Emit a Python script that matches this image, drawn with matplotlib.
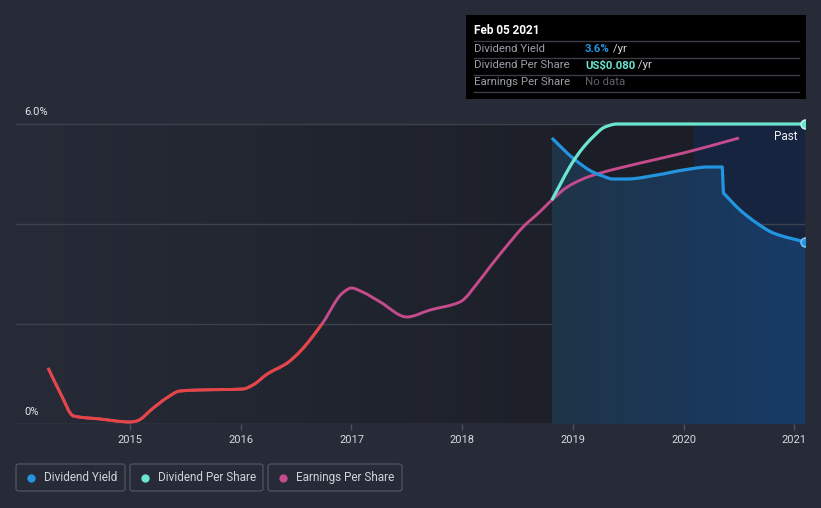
import matplotlib
matplotlib.use("Agg")
import matplotlib.pyplot as plt
import numpy as np
from matplotlib.patches import Rectangle, FancyBboxPatch, PathPatch
from matplotlib.path import Path
from matplotlib.lines import Line2D
from matplotlib.colors import to_rgb

plt.rcParams['font.family'] = ['Roboto', 'DejaVu Sans']

# ---------------- data ----------------
yield_years = [2018.81, 2019.00, 2019.18, 2019.27, 2019.36, 2019.49, 2019.76, 2020.00,
               2020.22, 2020.35, 2020.36, 2020.51, 2020.66, 2020.81, 2021.097]
yield_vals = [5.72, 5.32, 5.04, 4.96, 4.90, 4.90, 4.98, 5.08,
              5.14, 5.14, 4.62, 4.28, 4.02, 3.82, 3.64]
yield_break = 10  # index where the yield drops abruptly (dividend cut)

dps_years = [2018.81, 2019.00, 2019.09, 2019.18, 2019.29, 2019.40, 2020.00, 2021.097]
dps_vals = [0.0597, 0.0699, 0.0736, 0.0765, 0.0792, 0.0800, 0.0800, 0.0800]

eps_years = [2014.26, 2014.37, 2014.49, 2014.73, 2015.00, 2015.06, 2015.21, 2015.33,
             2015.45, 2015.63, 2016.02, 2016.11, 2016.24, 2016.42, 2016.54,
             2016.74, 2016.92, 2017.00, 2017.10, 2017.26, 2017.50, 2017.71, 2017.98,
             2018.16, 2018.25, 2018.41, 2018.55, 2018.70, 2018.81, 2018.95, 2019.07,
             2019.16, 2019.61, 2020.00, 2020.50]
eps_vals = [1.12, 0.62, 0.16, 0.10, 0.04, 0.06, 0.32, 0.52,
            0.66, 0.68, 0.70, 0.78, 1.00, 1.22, 1.46,
            2.02, 2.62, 2.72, 2.64, 2.44, 2.14, 2.28, 2.44,
            2.88, 3.14, 3.58, 3.94, 4.24, 4.48, 4.74, 4.88,
            4.96, 5.22, 5.42, 5.72]

x_ticks = [2015, 2016, 2017, 2018, 2019, 2020, 2021]
y_ticks = [0, 2, 4, 6]
y_ticklabels = {0: "0%", 6: "6.0%"}

# ---------------- style ----------------
W, H = 821, 508
BG = '#262b37'
BLUE = '#2394df'
TEAL = '#6ce5d0'
MAGENTA = '#c44b8c'
RED = '#e64545'


def monotone_segments(xs, ys):
    """Monotone-x cubic Bezier segments through the points (drawing style)."""
    x = np.asarray(xs, float)
    y = np.asarray(ys, float)
    n = len(x)
    h = np.diff(x)
    d = np.diff(y) / h
    m = np.zeros(n)
    m[0] = d[0]
    m[-1] = d[-1]
    for i in range(1, n - 1):
        if d[i - 1] * d[i] <= 0:
            m[i] = 0
        else:
            w1 = 2 * h[i] + h[i - 1]
            w2 = h[i] + 2 * h[i - 1]
            m[i] = (w1 + w2) / (w1 / d[i - 1] + w2 / d[i])
    verts, codes = [], []
    for i in range(n - 1):
        dx = h[i] / 3
        verts += [(x[i] + dx, y[i] + m[i] * dx), (x[i + 1] - dx, y[i + 1] - m[i + 1] * dx), (x[i + 1], y[i + 1])]
        codes += [Path.CURVE4] * 3
    return verts, codes


def monotone_path(xs, ys, breaks=()):
    pieces = []
    idx = [0] + list(breaks) + [len(xs)]
    for a, b in zip(idx[:-1], idx[1:]):
        pieces.append((xs[a:b], ys[a:b]))
    verts = [(xs[0], ys[0])]
    codes = [Path.MOVETO]
    for k, (px, py) in enumerate(pieces):
        if k > 0:
            verts.append((px[0], py[0]))
            codes.append(Path.LINETO)
        if len(px) > 1:
            v, c = monotone_segments(px, py)
            verts += v
            codes += c
    return Path(verts, codes)


fig = plt.figure(figsize=(W / 100, H / 100), dpi=100, facecolor=BG)

def fx(px):
    return px / W

def fy(py):
    return 1 - py / H

X0, X1 = 2013.97, 2021.097
Y0, Y1 = 0, 8.48
TOP = 6.0
ax = fig.add_axes([fx(16), fy(424), fx(805) - fx(16), fy(0) - fy(424)])
ax.set_facecolor('none')
ax.set_xlim(X0, X1)
ax.set_ylim(Y0, Y1)
for s in ax.spines.values():
    s.set_visible(False)

# background of the plot region
start = yield_years[0]
c0 = np.array(to_rgb(BG))
c1 = np.array(to_rgb('#1d2029'))
t = np.linspace(0, 1, 256)[None, :, None]
grad = c0 + (c1 - c0) * t
ax.imshow(grad, extent=[X0, start, Y0, TOP], aspect='auto', zorder=0, interpolation='bilinear')
past_start = 2020.09
ax.add_patch(Rectangle((start, Y0), past_start - start, TOP, facecolor='#1b1e26', edgecolor='none', zorder=0))
ax.add_patch(Rectangle((past_start, Y0), X1 - past_start, TOP, facecolor='#172440', edgecolor='none', zorder=0))

# grid lines
for yv in y_ticks:
    ax.axhline(yv, color='#4a505c' if yv == 0 else '#3b414d', lw=1, zorder=1)

# fill under dividend yield (gradient)
ypath = monotone_path(yield_years, yield_vals, breaks=[yield_break])
fill_verts = list(ypath.vertices) + [(yield_years[-1], 0), (yield_years[0], 0), (yield_years[0], yield_vals[0])]
fill_codes = list(ypath.codes) + [Path.LINETO, Path.LINETO, Path.CLOSEPOLY]
fill_path = Path(fill_verts, fill_codes)
g0 = np.array(to_rgb('#1f3447'))
g1 = np.array(to_rgb('#173b68'))
fgrad = g0 + (g1 - g0) * t
im = ax.imshow(fgrad, extent=[start, X1, Y0, TOP], aspect='auto', zorder=2, interpolation='bilinear')
im.set_clip_path(fill_path, transform=ax.transData)

# EPS line: magenta above threshold, red below
epath = monotone_path(eps_years, eps_vals)
ax.add_patch(PathPatch(epath, facecolor='none', edgecolor=MAGENTA, lw=2.1, zorder=4, capstyle='butt'))
red = ax.add_patch(PathPatch(epath, facecolor='none', edgecolor=RED, lw=2.1, zorder=4.5, capstyle='butt'))
clip_rect = Rectangle((X0, -1), X1 - X0, 3.0, transform=ax.transData)
red.set_clip_path(clip_rect)

# Dividend yield line
ax.add_patch(PathPatch(ypath, facecolor='none', edgecolor=BLUE, lw=2.3, zorder=5, joinstyle='round'))
ax.plot([yield_years[-1]], [yield_vals[-1]], 'o', color=BLUE, ms=6.5, mec='#8cc8f2', mew=1, zorder=6)

# Dividend per share on its own scale
ax2 = ax.twinx()
ax2.set_ylim(0, 0.08 * Y1 / 6.0)
ax2.set_xlim(X0, X1)
ax2.axis('off')
ax2.add_patch(PathPatch(monotone_path(dps_years, dps_vals), facecolor='none', edgecolor=TEAL, lw=2.3, zorder=5))
ax2.plot([dps_years[-1]], [dps_vals[-1]], 'o', color=TEAL, ms=6.5, mec='#c8f7ee', mew=1, zorder=6)

# ticks
ax.set_xticks(x_ticks)
ax.set_xticklabels([str(v) for v in x_ticks], color='#d6d9de', fontsize=8)
ax.tick_params(axis='x', length=4, width=1, color='#4a505c', pad=4)
ax.set_yticks([])

for yv, lab in y_ticklabels.items():
    fig.text(fx(24), fy(424 - yv * 50 - 12), lab, color='#e4e6ea', fontsize=8, va='center', ha='left')

fig.text(fx(797), fy(136), "Past", color='#f0f0f0', fontsize=8.5, ha='right', va='center')

# ---------------- tooltip ----------------
fig.patches.append(Rectangle((fx(466), fy(99)), fx(806) - fx(466), fy(15) - fy(99),
                             transform=fig.transFigure, facecolor='#000000', edgecolor='none', zorder=10))
fig.text(fx(474), fy(31), "Feb 05 2021", color='white', fontsize=8.5, fontweight='bold', va='center', zorder=11)
for ly in [40.5, 57.5, 74.5, 91.5]:
    fig.lines.append(Line2D([fx(474), fx(799)], [fy(ly), fy(ly)], transform=fig.transFigure,
                            color='#3a3d44', lw=1, zorder=11))
rows = [("Dividend Yield", 48.5, "3.6%", BLUE, " /yr"),
        ("Dividend Per Share", 65.5, "US$0.080", TEAL, " /yr"),
        ("Earnings Per Share", 82.5, "No data", '#5f636b', "")]
for label, ry, val, vc, suf in rows:
    fig.text(fx(474), fy(ry), label, color='#9a9ea6', fontsize=8.2, va='center', zorder=11)
    tv = fig.text(fx(585), fy(ry), val, color=vc, fontsize=8.2, va='center', zorder=11,
                  fontweight='bold' if suf else 'normal')
    if suf:
        fig.canvas.draw()
        bb = tv.get_window_extent()
        fig.text(bb.x1 / W, fy(ry), suf, color='#d8d8d8', fontsize=8.2, va='center', zorder=11)

# ---------------- legend ----------------
legend_items = [("Dividend Yield", BLUE, 16, 125), ("Dividend Per Share", TEAL, 130, 263),
                ("Earnings Per Share", MAGENTA, 268, 402)]
for name, col, lx0, lx1 in legend_items:
    fig.patches.append(FancyBboxPatch((fx(lx0), fy(491)), fx(lx1) - fx(lx0), fy(464) - fy(491),
                                      boxstyle="round,pad=0,rounding_size=0.004",
                                      transform=fig.transFigure, facecolor='none',
                                      edgecolor='#4b515d', lw=1))
    fig.lines.append(Line2D([fx(lx0 + 15)], [fy(477.5)], transform=fig.transFigure, marker='o',
                            ms=6, color=col, mec='none', linestyle='none'))
    fig.text(fx(lx0 + 28), fy(477.5), name, color='#d0d3d9', fontsize=8.5, va='center')

fig.savefig("out.png", dpi=100, facecolor=BG)
